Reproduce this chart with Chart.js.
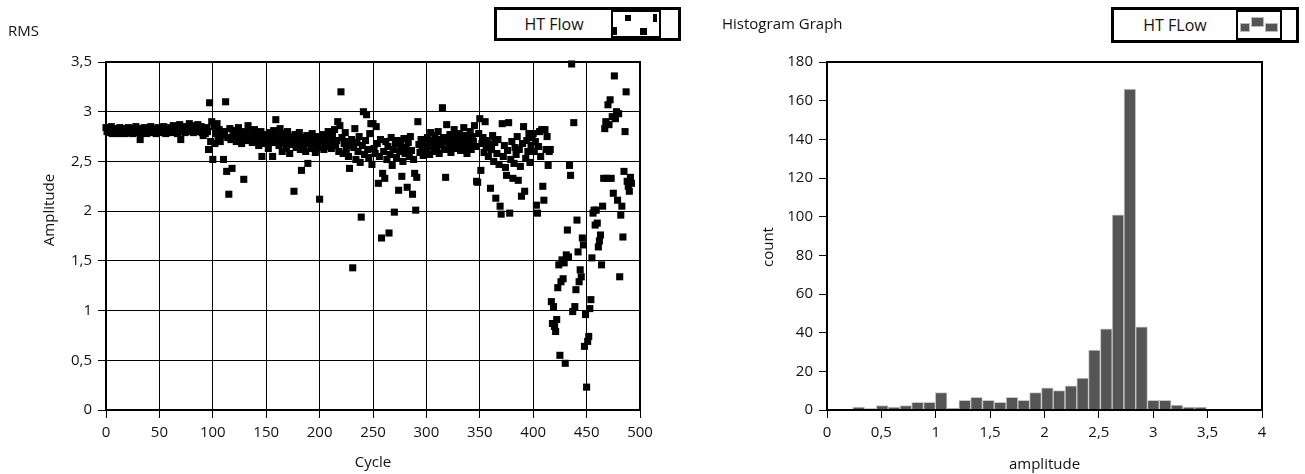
<!DOCTYPE html>
<html>
<head>
<meta charset="utf-8">
<script src="https://cdn.jsdelivr.net/npm/chart.js@4.4.0/dist/chart.umd.min.js"></script>
<style>
  body { margin: 0; background: #fff; width: 1305px; height: 474px; position: relative; overflow: hidden; font-family: 'Open Sans', sans-serif; color: #111; }
  .pane { position: absolute; top: 0; }
  .title { position: absolute; font-size: 15px; }
  .vt { position: absolute; font-size: 15px; white-space: nowrap; transform: translate(-50%, -50%) rotate(-90deg); }
  .leg { position: absolute; border: 3px solid #000; display: flex; background: #fff; box-sizing: border-box; }
  .leg .txt { display: flex; align-items: center; justify-content: center; font-size: 16px; }
  .leg .ico { position: relative; border: 2px solid #000; box-sizing: border-box; background: #fff; }
  .leg .ico i { position: absolute; background: #000; }
  .leg .ico b { position: absolute; background: #555; border: 1px solid #bbb; box-sizing: border-box; }
  .leg .blank { flex: 1; }
</style>
</head>
<body>
<div class="pane" style="left:0;"><canvas id="rmsChart" width="700" height="474"></canvas></div>
<div class="pane" style="left:700px;"><canvas id="histChart" width="605" height="474"></canvas></div>

<div class="title" style="left:8px; top:20px;">RMS</div>
<div class="title" style="left:722px; top:13px;">Histogram Graph</div>
<div class="vt" style="left:48px; top:210px;">Amplitude</div>
<div class="vt" style="left:767px; top:247px;">count</div>

<div class="leg" style="left:494px; top:7px; width:187px; height:34px;">
  <div class="txt" style="width:114px;">HT Flow</div>
  <div class="ico" style="width:50px;">
    <i style="left:12px; top:3px; width:6px; height:6px;"></i>
    <i style="left:40px; top:2px; width:4px; height:8px;"></i>
    <i style="left:0px; top:15px; width:4px; height:8px;"></i>
    <i style="left:27px; top:16px; width:7px; height:7px;"></i>
  </div>
  <div class="blank"></div>
</div>

<div class="leg" style="left:1111px; top:7px; width:188px; height:36px;">
  <div class="txt" style="width:122px;">HT FLow</div>
  <div class="ico" style="width:46px;">
    <b style="left:2px; top:11px; width:10px; height:9px;"></b>
    <b style="left:13px; top:5px; width:13px; height:10px;"></b>
    <b style="left:27px; top:11px; width:13px; height:9px;"></b>
  </div>
  <div class="blank"></div>
</div>

<script>
// RMS amplitude per cycle (cycle = index)
const rmsValues = [
  2.84, 2.80, 2.83, 2.79, 2.82, 2.85, 2.78, 2.81, 2.83, 2.80,
  2.79, 2.82, 2.78, 2.84, 2.80, 2.81, 2.79, 2.83, 2.78, 2.82,
  2.80, 2.84, 2.79, 2.81, 2.83, 2.78, 2.82, 2.80, 2.85, 2.79,
  2.81, 2.83, 2.72, 2.80, 2.82, 2.79, 2.84, 2.81, 2.78, 2.83,
  2.80, 2.82, 2.85, 2.79, 2.81, 2.83, 2.80, 2.78, 2.82, 2.84,
  2.81, 2.79, 2.83, 2.80, 2.85, 2.82, 2.78, 2.81, 2.84, 2.80,
  2.83, 2.79, 2.82, 2.86, 2.80, 2.84, 2.81, 2.78, 2.83, 2.87,
  2.72, 2.82, 2.80, 2.84, 2.79, 2.85, 2.81, 2.83, 2.88, 2.80,
  2.82, 2.86, 2.79, 2.84, 2.81, 2.83, 2.87, 2.80, 2.82, 2.85,
  2.79, 2.76, 2.82, 2.78, 2.84, 2.80, 2.62, 3.09, 2.70, 2.90,
  2.52, 2.85, 2.68, 2.78, 2.88, 2.74, 2.82, 2.70, 2.79, 2.76,
  2.52, 2.80, 3.10, 2.40, 2.74, 2.17, 2.83, 2.72, 2.43, 2.78,
  2.75, 2.81, 2.70, 2.77, 2.84, 2.73, 2.79, 2.68, 2.76, 2.32,
  2.80, 2.74, 2.71, 2.86, 2.77, 2.72, 2.79, 2.69, 2.75, 2.82,
  2.73, 2.70, 2.78, 2.66, 2.74, 2.80, 2.55, 2.71, 2.77, 2.68,
  2.75, 2.72, 2.63, 2.79, 2.70, 2.74, 2.55, 2.81, 2.69, 2.92,
  2.76, 2.71, 2.66, 2.83, 2.73, 2.60, 2.78, 2.68, 2.74, 2.63,
  2.80, 2.70, 2.58, 2.75, 2.67, 2.72, 2.20, 2.77, 2.64, 2.73,
  2.69, 2.79, 2.62, 2.41, 2.74, 2.67, 2.71, 2.60, 2.76, 2.48,
  2.68, 2.73, 2.63, 2.78, 2.66, 2.71, 2.59, 2.75, 2.69, 2.64,
  2.12, 2.72, 2.67, 2.77, 2.62, 2.70, 2.74, 2.65, 2.80, 2.68,
  2.73, 2.63, 2.76, 2.69, 2.82, 2.66, 2.71, 2.90, 2.60, 2.86,
  3.20, 2.74, 2.58, 2.68, 2.79, 2.62, 2.70, 2.55, 2.43, 2.66,
  2.72, 1.43, 2.64, 2.83, 2.52, 2.69, 2.60, 2.75, 2.49, 1.94,
  2.66, 3.00, 2.57, 2.71, 2.97, 2.62, 2.54, 2.78, 2.88, 2.47,
  2.88, 2.63, 2.58, 2.85, 2.68, 2.28, 2.55, 2.72, 1.73, 2.38,
  2.60, 2.33, 2.70, 2.52, 2.65, 1.78, 2.57, 2.74, 2.46, 2.62,
  1.99, 2.68, 2.54, 2.71, 2.21, 2.60, 2.66, 2.35, 2.50, 2.73,
  2.58, 2.64, 2.24, 2.69, 2.55, 2.75, 2.61, 2.17, 2.52, 2.38,
  2.01, 2.34, 2.90, 2.67, 2.59, 2.72, 2.63, 2.56, 2.70, 2.66,
  2.61, 2.74, 2.68, 2.57, 2.79, 2.65, 2.71, 2.60, 2.76, 2.69,
  2.63, 2.80, 2.58, 2.72, 2.67, 3.04, 2.74, 2.62, 2.34, 2.87,
  2.70, 2.65, 2.77, 2.59, 2.73, 2.68, 2.82, 2.63, 2.75, 2.71,
  2.66, 2.78, 2.61, 2.72, 2.69, 2.84, 2.64, 2.76, 2.58, 2.73,
  2.67, 2.80, 2.62, 2.75, 2.70, 2.86, 2.65, 2.30, 2.29, 2.78,
  2.93, 2.41, 2.68, 2.74, 2.59, 2.90, 2.64, 2.71, 2.55, 2.67,
  2.23, 2.62, 2.76, 2.50, 2.69, 2.13, 2.58, 2.72, 2.47, 2.05,
  1.97, 2.88, 2.55, 2.66, 2.44, 2.36, 2.61, 2.89, 1.98, 2.52,
  2.70, 2.33, 2.48, 2.64, 2.57, 2.75, 2.31, 2.62, 2.45, 2.15,
  2.68, 2.85, 2.20, 2.53, 2.71, 2.60, 2.78, 2.49, 2.66, 2.74,
  2.78, 2.60, 2.70, 2.06, 1.98, 2.65, 2.80, 2.55, 2.82, 2.25,
  2.11, 2.82, 2.62, 2.75, 2.46, 2.60, 2.62, 1.09, 0.87, 1.04,
  0.84, 0.79, 0.91, 1.23, 1.46, 0.55, 1.29, 1.51, 1.32, 1.48,
  0.47, 1.56, 1.81, 1.54, 2.46, 2.36, 3.48, 0.99, 2.89, 1.04,
  1.21, 1.91, 1.59, 1.29, 1.41, 1.34, 1.73, 1.66, 0.64, 0.96,
  0.23, 0.69, 0.74, 1.02, 1.11, 1.53, 1.98, 2.01, 1.86, 2.01,
  1.88, 1.64, 1.70, 1.76, 1.46, 2.05, 2.33, 2.83, 2.90, 2.33,
  3.07, 2.87, 3.12, 2.33, 2.95, 2.18, 3.36, 2.93, 3.00, 2.11,
  2.98, 1.34, 1.96, 2.05, 1.74, 2.40, 2.80, 3.20, 2.30, 2.25,
  2.20, 2.34, 2.28
];

// histogram bins (centre of each amplitude bin) and counts
const binCenters = [
  0.291, 0.400, 0.508, 0.616, 0.725, 0.833, 0.942, 1.050, 1.159, 1.267,
  1.375, 1.484, 1.592, 1.701, 1.809, 1.917, 2.026, 2.134, 2.243, 2.351,
  2.459, 2.568, 2.676, 2.785, 2.893, 3.001, 3.110, 3.218, 3.327, 3.435
];
const binCounts = [
  1.5, 0.7, 2.3, 1.5, 2.3, 4, 4, 9, 0.8, 5,
  6.5, 5, 4, 6.5, 5, 9, 11.5, 10, 12.5, 16.5,
  31, 42, 101, 166, 43, 5, 5, 2.5, 1.5, 1.5
];

const rmsPoints = rmsValues.map((v, i) => ({ x: i, y: v }));
const histPoints = binCenters.map((c, i) => ({ x: c, y: binCounts[i] }));

const comma = v => String(v).replace('.', ',');
const fonte = { family: "'Open Sans', sans-serif", size: 15 };
const fonteTitulo = { family: "'Open Sans', sans-serif", size: 15 };

const moldura = {
  id: 'moldura',
  afterDraw(chart) {
    const { ctx, chartArea: a } = chart;
    ctx.save();
    ctx.strokeStyle = '#000';
    ctx.lineWidth = 2;
    ctx.strokeRect(a.left, a.top, a.right - a.left, a.bottom - a.top);
    ctx.restore();
  }
};

new Chart(document.getElementById('rmsChart'), {
  type: 'scatter',
  data: {
    datasets: [{
      label: 'HT Flow',
      data: rmsPoints,
      pointStyle: 'rect',
      pointRadius: 5,
      pointHoverRadius: 5,
      backgroundColor: '#000',
      borderWidth: 0,
      clip: 8
    }]
  },
  options: {
    responsive: false,
    animation: false,
    layout: { padding: { top: 62, right: 60, left: 0, bottom: 0 } },
    plugins: { legend: { display: false }, tooltip: { enabled: false } },
    scales: {
      x: {
        type: 'linear', min: 0, max: 500,
        afterFit: s => { s.height = 64; },
        ticks: { stepSize: 50, color: '#111', font: fonte, padding: 6, maxRotation: 0 },
        grid: { color: '#000', lineWidth: 1, tickLength: 8 },
        border: { color: '#000', width: 2 },
        title: { display: true, text: 'Cycle', color: '#111', font: fonteTitulo, padding: { top: 0, bottom: 2 } }
      },
      y: {
        type: 'linear', min: 0, max: 3.5,
        afterFit: s => { s.width = 106; },
        ticks: { stepSize: 0.5, color: '#111', font: fonte, padding: 6, callback: comma },
        grid: { color: '#000', lineWidth: 1, tickLength: 8 },
        border: { color: '#000', width: 2 }
      }
    }
  },
  plugins: [moldura]
});

new Chart(document.getElementById('histChart'), {
  type: 'bar',
  data: {
    datasets: [{
      label: 'HT FLow',
      data: histPoints,
      backgroundColor: '#555555',
      borderColor: '#c8c8c8',
      borderWidth: 1,
      barPercentage: 1,
      categoryPercentage: 1
    }]
  },
  options: {
    responsive: false,
    animation: false,
    layout: { padding: { top: 62, right: 43, left: 0, bottom: 0 } },
    plugins: { legend: { display: false }, tooltip: { enabled: false } },
    scales: {
      x: {
        type: 'linear', min: 0, max: 4, offset: false,
        afterFit: s => { s.height = 64; },
        ticks: { stepSize: 0.5, color: '#111', font: fonte, padding: 6, maxRotation: 0, callback: comma },
        grid: { drawOnChartArea: false, offset: false, color: '#000', tickLength: 8 },
        border: { color: '#000', width: 2 },
        title: { display: true, text: 'amplitude', color: '#111', font: fonteTitulo, padding: { top: 0, bottom: 0 } }
      },
      y: {
        type: 'linear', min: 0, max: 180,
        afterFit: s => { s.width = 127; },
        ticks: { stepSize: 20, color: '#111', font: fonte, padding: 6 },
        grid: { drawOnChartArea: false, color: '#000', tickLength: 8 },
        border: { color: '#000', width: 2 }
      }
    }
  },
  plugins: [moldura]
});
</script>
</body>
</html>
